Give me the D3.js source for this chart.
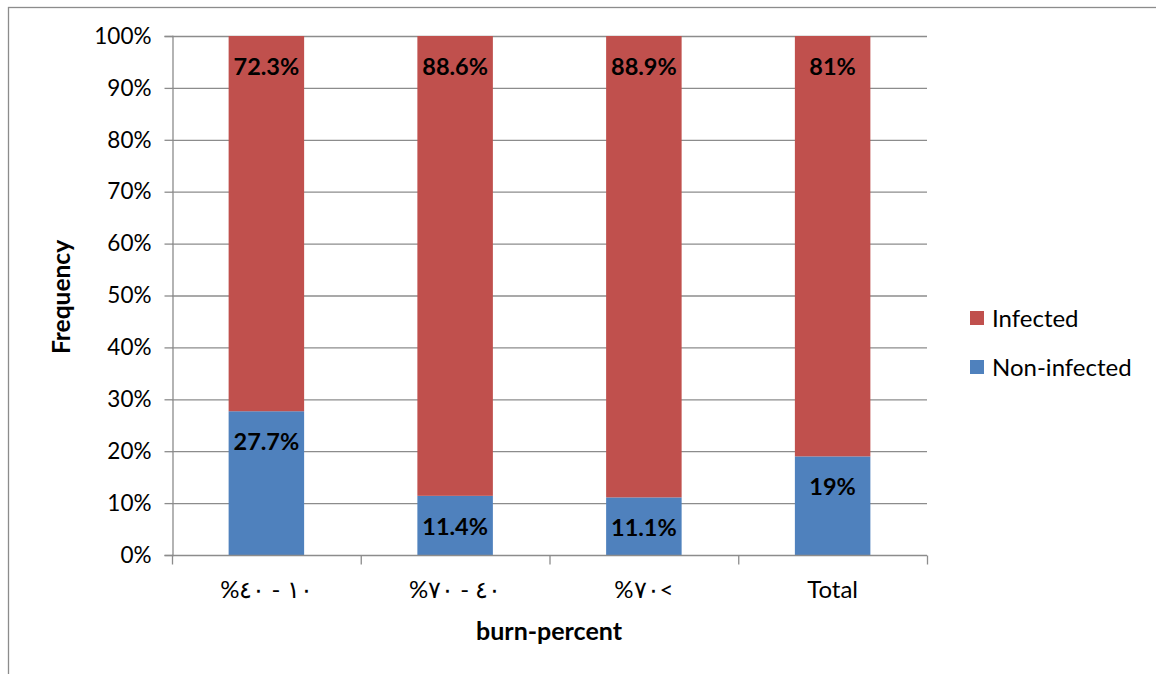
<!DOCTYPE html>
<html><head><meta charset="utf-8">
<script src="https://cdn.jsdelivr.net/npm/d3@7"></script>
<style>
body{margin:0;background:#fff;}
svg text{font-family:Lato,"Open Sans",sans-serif;}
</style></head>
<body><svg id="c" width="1156" height="674"></svg>
<script>
const categories = ["%٤٠ - ١٠", "%٧٠ - ٤٠", "%٧٠<", "Total"];
const nonInfected = [27.7, 11.4, 11.1, 19];
const infected = [72.3, 88.6, 88.9, 81];
const nonInfectedLabels = ["27.7%", "11.4%", "11.1%", "19%"];
const infectedLabels = ["72.3%", "88.6%", "88.9%", "81%"];
const yTicks = [0,10,20,30,40,50,60,70,80,90,100];
const seriesNames = ["Infected", "Non-infected"];
const colors = {"Infected":"#C0504D","Non-infected":"#4F81BD"};

(function(){
const svg = d3.select("#c");
svg.append("rect").attr("x",8.5).attr("y",7.5).attr("width",1160).attr("height",700)
  .attr("fill","none").attr("stroke","#8c8c8c").attr("stroke-width",1.3);

const pL=172, pR=927, pT=36, pB=555;
const x = d3.scaleBand().domain(categories).range([pL,pR]).paddingInner(0.6).paddingOuter(0.3);
const xb = d3.scaleBand().domain(categories).range([pL,pR]);
const y = d3.scaleLinear().domain([0,100]).range([pB,pT]);

svg.append("g").selectAll("line").data(yTicks.filter(d=>d>0)).join("line")
  .attr("x1",pL).attr("x2",pR).attr("y1",d=>y(d)+0.5).attr("y2",d=>y(d)+0.5)
  .attr("stroke","#8c8c8c").attr("stroke-width",1.3);

const ya = svg.append("g").attr("transform",`translate(${pL+0.5},0)`)
  .call(d3.axisLeft(y).tickValues(yTicks).tickFormat(d=>d+"%").tickSize(8).tickPadding(13));
ya.select(".domain").attr("stroke","#8c8c8c").attr("stroke-width",1.3);
ya.selectAll(".tick line").attr("stroke","#8c8c8c").attr("stroke-width",1.3);
ya.selectAll(".tick text").attr("font-size",22.5).attr("fill","#000").style("font-family","Lato");

const stackData = categories.map((c,i)=>({c, n:nonInfected[i], inf:infected[i], nl:nonInfectedLabels[i], il:infectedLabels[i]}));
const g = svg.append("g");
g.selectAll("rect.n").data(stackData).join("rect").attr("class","n")
  .attr("x",d=>x(d.c)).attr("width",x.bandwidth())
  .attr("y",d=>y(d.n)).attr("height",d=>y(0)-y(d.n)).attr("fill",colors["Non-infected"]);
g.selectAll("rect.i").data(stackData).join("rect").attr("class","i")
  .attr("x",d=>x(d.c)).attr("width",x.bandwidth())
  .attr("y",d=>y(d.n+d.inf)).attr("height",d=>y(d.n)-y(d.n+d.inf)).attr("fill",colors["Infected"]);

const xa = svg.append("g").attr("transform",`translate(0,${pB+0.5})`);
xa.append("line").attr("x1",pL).attr("x2",pR).attr("stroke","#8c8c8c").attr("stroke-width",1.3);
const tickXs = categories.map(c=>xb(c)).concat([pR]);
xa.selectAll("line.t").data(tickXs).join("line").attr("class","t")
  .attr("x1",d=>d+0.5).attr("x2",d=>d+0.5).attr("y1",0).attr("y2",9)
  .attr("stroke","#8c8c8c").attr("stroke-width",1.3);
xa.selectAll("text").data(categories).join("text")
  .attr("x",d=>xb(d)+xb.bandwidth()/2).attr("y",42)
  .attr("text-anchor","middle").attr("font-size",24).attr("fill","#000")
  .style("unicode-bidi","bidi-override").style("direction","ltr")
  .text(d=>d);

g.selectAll("text.nl").data(stackData).join("text").attr("class","nl")
  .attr("x",d=>x(d.c)+x.bandwidth()/2).attr("y",d=>y(d.n)+39)
  .attr("text-anchor","middle").attr("font-size",23.5).attr("font-weight","bold").text(d=>d.nl);
g.selectAll("text.il").data(stackData).join("text").attr("class","il")
  .attr("x",d=>x(d.c)+x.bandwidth()/2).attr("y",d=>y(d.n+d.inf)+39)
  .attr("text-anchor","middle").attr("font-size",23.5).attr("font-weight","bold").text(d=>d.il);

svg.append("text").attr("transform","translate(70,297) rotate(-90)")
  .attr("text-anchor","middle").attr("font-size",24.5).attr("font-weight","bold").text("Frequency");
svg.append("text").attr("x",549).attr("y",640)
  .attr("text-anchor","middle").attr("font-size",25).attr("font-weight","bold").text("burn-percent");

const lg = svg.append("g").selectAll("g").data(seriesNames).join("g")
  .attr("transform",(d,i)=>`translate(970,${311+i*49})`);
lg.append("rect").attr("width",14).attr("height",14).attr("fill",d=>colors[d]);
lg.append("text").attr("x",22).attr("y",16).attr("font-size",24).attr("fill","#000").text(d=>d);
})();
</script></body></html>
